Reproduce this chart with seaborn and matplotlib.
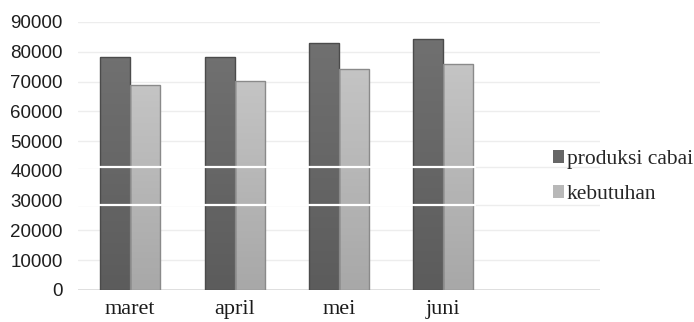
import matplotlib
matplotlib.use("Agg")
import matplotlib.pyplot as plt
import matplotlib.colors as mcolors
import seaborn as sns
import pandas as pd
import numpy as np

months = ["maret", "april", "mei", "juni"]
produksi = [78200, 78200, 82800, 84300]
kebutuhan = [68800, 70200, 74300, 75800]
series = ["produksi cabai", "kebutuhan"]
yticks = [0, 10000, 20000, 30000, 40000, 50000, 60000, 70000, 80000, 90000]
grid_vals = [10000, 20000, 50000, 60000, 70000, 80000, 90000]
odd_lines = [28500, 41300]

df = pd.DataFrame({
    "bulan": months * 2,
    "nilai": produksi + kebutuhan,
    "seri": [series[0]] * 4 + [series[1]] * 4,
})

sns.set_theme(style="white")
fig = plt.figure(figsize=(6.94, 3.22), dpi=100)
ax = fig.add_axes([78 / 694, 32 / 322, 522 / 694, 268 / 322])

palette = {series[0]: "#666666", series[1]: "#b8b8b8"}
grad = {series[0]: ("#707070", "#5c5c5c"), series[1]: ("#c4c4c4", "#a8a8a8")}
sns.barplot(data=df, x="bulan", y="nilai", hue="seri", palette=palette,
            width=0.575, ax=ax, saturation=1, linewidth=0, zorder=2)

ax.set_xlim(-0.5, 4.5)
ax.set_ylim(0, 90000)

bars = [p for p in ax.patches if p.get_height() > 0]
for i, p in enumerate(bars):
    s = series[0] if i < len(months) else series[1]
    top, bot = grad[s]
    cmap = mcolors.LinearSegmentedColormap.from_list("g", [bot, top])
    x0, y0 = p.get_x(), p.get_y()
    w, h = p.get_width(), p.get_height()
    g = np.linspace(0, 1, 64).reshape(-1, 1)
    im = ax.imshow(g, cmap=cmap, aspect="auto", origin="lower",
                   extent=[x0, x0 + w, y0, y0 + h], zorder=2.1)
    im.set_clip_path(p)
    fc = mcolors.to_rgb(bot)
    p.set_edgecolor((fc[0] * 0.82, fc[1] * 0.82, fc[2] * 0.82, 1))
    p.set_linewidth(1.0)
    p.set_zorder(2.2)
    p.set_facecolor("none")

for v in grid_vals:
    ax.axhline(v, color="#ededed", lw=1.0, zorder=0.5)
for v in odd_lines:
    ax.axhline(v, color="#ededed", lw=1.0, zorder=0.5)
    ax.axhline(v, xmax=0.76, color="white", lw=1.6, zorder=3)
ax.axhline(0, color="#d9d9d9", lw=1.2, zorder=1)

ax.set_xlim(-0.5, 4.5)
ax.set_ylim(0, 90000)
ax.set_yticks(yticks)
ax.set_yticklabels([str(v) for v in yticks], fontfamily="Liberation Sans",
                   fontsize=13.5, color="#1e1e1e")
ax.set_xticks(range(len(months)))
ax.set_xticklabels(months, fontfamily="Liberation Serif", fontsize=16,
                   color="#1a1a1a")
ax.tick_params(axis="y", length=0, pad=11)
ax.tick_params(axis="x", length=0, pad=7.5)
ax.set_xlabel("")
ax.set_ylabel("")
for s in ax.spines.values():
    s.set_visible(False)

handles, labels = ax.get_legend_handles_labels()
ax.legend(handles, labels, loc="center left", bbox_to_anchor=(553 / 694, 0.45),
          bbox_transform=fig.transFigure, frameon=False, borderpad=0,
          borderaxespad=0, handlelength=0.5, handleheight=0.5,
          handletextpad=0.15, labelspacing=0.75,
          prop={"family": "Liberation Serif", "size": 15.5})

fig.savefig("out.png", dpi=100)
